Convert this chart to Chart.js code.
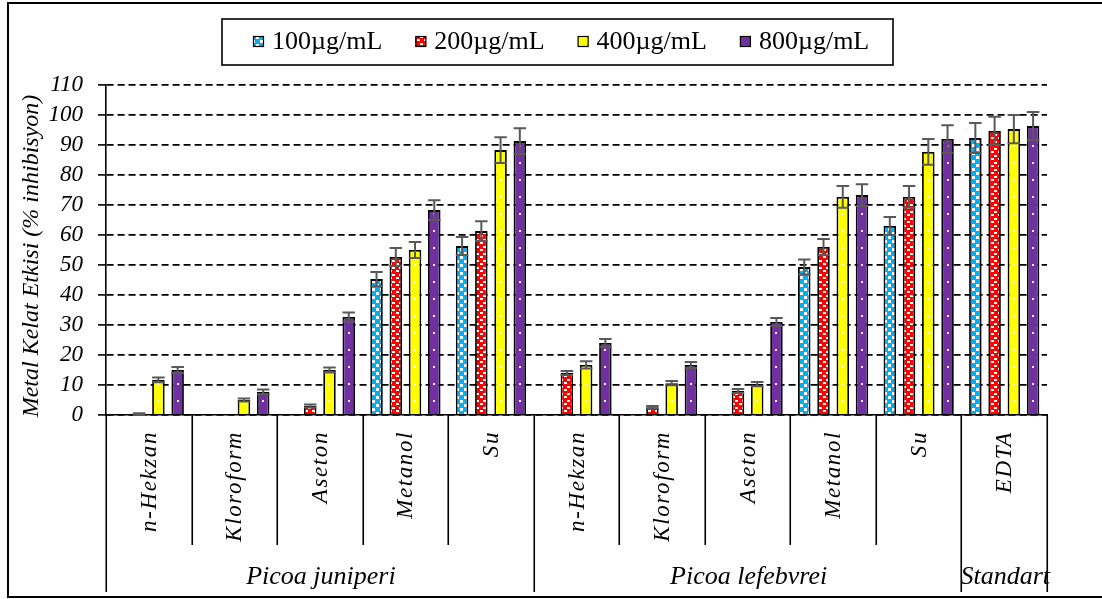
<!DOCTYPE html>
<html>
<head>
<meta charset="utf-8">
<script src="https://cdn.jsdelivr.net/npm/chart.js@4.4.1/dist/chart.umd.min.js"></script>
<style>
  html, body { margin: 0; padding: 0; background: #fff; }
  canvas { display: block; }
</style>
</head>
<body>
<canvas id="chart" width="1102" height="599"></canvas>
<script>
// Solvent extracts, grouped by species
const categories = ['n-Hekzan', 'Kloroform', 'Aseton', 'Metanol', 'Su',
                    'n-Hekzan', 'Kloroform', 'Aseton', 'Metanol', 'Su', 'EDTA'];
const groupLabels = ['Picoa juniperi', 'Picoa lefebvrei', 'Standart'];
const groupStart  = [0, 5, 10];
const groupEnd    = [4, 9, 10];

const seriesLabels = ['100µg/mL', '200µg/mL', '400µg/mL', '800µg/mL'];
const yTitle = 'Metal Kelat Etkisi (% inhibisyon)';

// Metal chelating effect (% inhibition)
const values100 = [0,   0,   0,    45.3, 56.3, 0,    0,    0,    49.3, 63,   92.3];
const values200 = [0.3, 0,   3,    52.7, 61.3, 14,   2.6,  8,    56,   72.7, 94.7];
const values400 = [11.7, 5,  15,   55,   88.3, 16.7, 10.6, 10.3, 72.7, 87.7, 95.3];
const values800 = [15,  7.7, 32.7, 68.3, 91.3, 24,   16.7, 31,   73.3, 92,   96.3];

// Standard deviations
const errors100 = [0,   0,   0,   2.4, 3,   0,   0,   0,   2.5, 3,   5];
const errors200 = [0.3, 0,   0.5, 3,   3.3, 0.7, 0.4, 0.7, 2.7, 3.6, 4.7];
const errors400 = [0.8, 0.5, 0.8, 2.7, 4.3, 1.2, 0.7, 0.7, 3.6, 4.3, 4.7];
const errors800 = [1,   0.8, 1.5, 3.3, 4.3, 1.3, 1,   1.3, 3.6, 4.6, 4.7];

const yMin = 0, yMax = 110, yStep = 10;

const seriesValues = [values100, values200, values400, values800];
const seriesErrors = [errors100, errors200, errors400, errors800];

const SERIF = '"Liberation Serif", "Times New Roman", serif';

// ---- fill patterns ----
const ctxMain = document.getElementById('chart').getContext('2d');
const bluePattern = (() => {
  const c = document.createElement('canvas'); c.width = 8; c.height = 8;
  const g = c.getContext('2d');
  g.fillStyle = '#00B0F0'; g.fillRect(0, 0, 8, 8);
  g.fillStyle = '#fff'; g.fillRect(4, 0, 3, 3); g.fillRect(0, 4, 3, 3);
  return ctxMain.createPattern(c, 'repeat');
})();
const redPattern = (() => {
  const c = document.createElement('canvas'); c.width = 7; c.height = 7;
  const g = c.getContext('2d');
  g.fillStyle = '#FF0000'; g.fillRect(0, 0, 7, 7);
  g.fillStyle = '#fff'; g.fillRect(0, 1, 3, 2); g.fillRect(4, 4, 3, 2);
  return ctxMain.createPattern(c, 'repeat');
})();
const fills = [bluePattern, redPattern, '#FFFF00', '#7030A0'];
const dotted = [false, false, true, true];

// ---- error bars (and the dot column on plain fills) ----
const errorBarPlugin = {
  id: 'errorBars',
  afterDatasetsDraw(chart) {
    const { ctx, scales: { y } } = chart;
    ctx.save();
    chart.data.datasets.forEach((ds, i) => {
      const meta = chart.getDatasetMeta(i);
      if (dotted[i]) {
        ctx.fillStyle = 'rgba(255,255,255,0.95)';
        meta.data.forEach(el => {
          for (let py = el.base - 13; py > el.y + 1; py -= 17) {
            ctx.fillRect(Math.round(el.x) - 1, Math.round(py) - 1, 2, 2);
          }
        });
      }
      ctx.strokeStyle = '#595959';
      ctx.lineWidth = 2;
      meta.data.forEach((el, j) => {
        const v = ds.data[j], e = seriesErrors[i][j];
        if (!e) return;
        const top = y.getPixelForValue(v + e);
        const bot = y.getPixelForValue(Math.max(v - e, 0));
        const half = el.width / 2;
        ctx.beginPath();
        ctx.moveTo(el.x, top); ctx.lineTo(el.x, bot);
        ctx.moveTo(el.x - half, top); ctx.lineTo(el.x + half, top);
        ctx.moveTo(el.x - half, bot); ctx.lineTo(el.x + half, bot);
        ctx.stroke();
      });
    });
    ctx.restore();
  }
};

// ---- category table under the axis, axis title, legend box and outer frame ----
const layoutPlugin = {
  id: 'tableAndFrame',
  beforeDraw(chart) {
    const { ctx } = chart;
    ctx.save();
    ctx.fillStyle = '#fff';
    ctx.fillRect(0, 0, chart.width, chart.height);
    ctx.restore();
  },
  afterDraw(chart) {
    const { ctx, scales: { x, y }, chartArea } = chart;
    const base = chartArea.bottom;
    const n = categories.length;
    const step = x.getPixelForValue(1) - x.getPixelForValue(0);
    const edge = i => x.getPixelForValue(i) - step / 2;
    const outerEdges = new Set([0, ...groupEnd.map(e => e + 1)]);

    ctx.save();
    ctx.strokeStyle = '#000';
    ctx.lineWidth = 1.6;
    ctx.beginPath();
    for (let i = 0; i <= n; i++) {
      const px = Math.round(edge(i)) + 0.25;
      ctx.moveTo(px, base);
      ctx.lineTo(px, outerEdges.has(i) ? 592 : 545);
    }
    ctx.stroke();

    // rotated category labels
    ctx.fillStyle = '#000';
    ctx.font = 'italic 23px ' + SERIF;
    ctx.letterSpacing = '1.6px';
    ctx.textAlign = 'right';
    ctx.textBaseline = 'middle';
    categories.forEach((lab, i) => {
      ctx.save();
      ctx.translate(x.getPixelForValue(i) + 1, base + 16);
      ctx.rotate(-Math.PI / 2);
      ctx.fillText(lab, 0, 0);
      ctx.restore();
    });

    // group labels
    ctx.letterSpacing = '0px';
    ctx.font = 'italic 26px ' + SERIF;
    ctx.textAlign = 'center';
    groupLabels.forEach((lab, g) => {
      const cx = (edge(groupStart[g]) + edge(groupEnd[g] + 1)) / 2;
      ctx.fillText(lab, cx + 1, 577);
    });

    // y-axis title
    ctx.save();
    ctx.font = 'italic 24px ' + SERIF;
    ctx.translate(32, (y.top + y.bottom) / 2 + 6);
    ctx.rotate(-Math.PI / 2);
    ctx.textAlign = 'center';
    ctx.fillText(yTitle, 0, 0);
    ctx.restore();

    // legend
    const box = { left: 222, top: 19, right: 893, bottom: 65 };
    ctx.lineWidth = 1.6;
    ctx.strokeRect(box.left, box.top, box.right - box.left, box.bottom - box.top);
    ctx.font = '26px ' + SERIF;
    ctx.textAlign = 'left';
    ctx.textBaseline = 'middle';
    const cy = 42;
    let lx = 253;
    seriesLabels.forEach((lab, k) => {
      ctx.fillStyle = fills[k];
      ctx.fillRect(lx, cy - 6, 11, 11);
      ctx.lineWidth = 1.2;
      ctx.strokeStyle = '#000';
      ctx.strokeRect(lx + 0.5, cy - 5.5, 10, 10);
      ctx.fillStyle = '#000';
      ctx.fillText(lab, lx + 19, cy);
      lx += 19 + ctx.measureText(lab).width + 33;
    });

    // outer frame
    ctx.lineWidth = 2;
    ctx.strokeStyle = '#000';
    ctx.strokeRect(8, 3, chart.width, 594);
    ctx.restore();
  }
};

new Chart(ctxMain, {
  type: 'bar',
  data: {
    labels: categories,
    datasets: seriesLabels.map((label, k) => ({
      label,
      data: seriesValues[k],
      backgroundColor: fills[k],
      borderColor: '#000',
      borderWidth: 1.8,
      categoryPercentage: 0.9,
      barPercentage: 0.65
    }))
  },
  options: {
    responsive: false,
    animation: false,
    devicePixelRatio: 1,
    layout: { padding: { left: 8, right: 55, top: 85, bottom: 0 } },
    plugins: {
      legend: { display: false },
      tooltip: { enabled: false }
    },
    scales: {
      x: {
        ticks: { display: false },
        grid: { display: false },
        border: { display: true, color: '#000', width: 1.6 },
        afterFit(s) { s.height = 184; }
      },
      y: {
        min: yMin,
        max: yMax,
        ticks: {
          stepSize: yStep,
          autoSkip: false,
          color: '#000',
          padding: 15,
          font: { family: SERIF, size: 23, style: 'italic' }
        },
        grid: {
          color: '#000',
          lineWidth: 1.8,
          drawTicks: true,
          tickLength: 8,
          tickColor: '#000',
          tickWidth: 1.6,
          tickBorderDash: []
        },
        border: { display: true, color: '#000', width: 1.6, dash: [7, 4] },
        afterFit(s) { s.width = 98; }
      }
    }
  },
  plugins: [errorBarPlugin, layoutPlugin]
});
</script>
</body>
</html>
